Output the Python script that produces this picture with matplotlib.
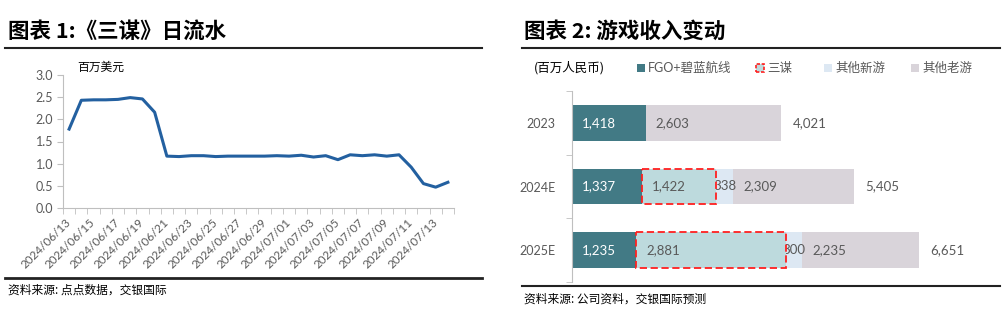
import matplotlib.pyplot as plt
from matplotlib.patches import Rectangle
from matplotlib.lines import Line2D
import numpy as np
import pandas as pd

plt.rcParams['font.family'] = ['Noto Sans CJK SC', 'DejaVu Sans']

# 图表1 数据: 《三谋》日流水 (百万美元)
dates = list(pd.date_range('2024-06-13', '2024-07-14').strftime('%Y/%m/%d'))
flow = [1.78, 2.43, 2.44, 2.44, 2.45, 2.49, 2.46, 2.16, 1.17, 1.16, 1.18, 1.18,
        1.16, 1.17, 1.17, 1.17, 1.17, 1.18, 1.17, 1.19, 1.15, 1.18, 1.09, 1.20,
        1.18, 1.20, 1.17, 1.20, 0.92, 0.55, 0.47, 0.58]

# 图表2 数据: 游戏收入变动 (百万人民币)
years = ['2023', '2024E', '2025E']
fgo = [1418, 1337, 1235]
sanmou = [0, 1422, 2881]
other_new = [0, 338, 300]
other_old = [2603, 2309, 2235]
totals = [4021, 5405, 6651]

W, H = 1004, 312
fig = plt.figure(figsize=(W / 100, H / 100), dpi=100)

num_font = ['Lato', 'Noto Sans CJK SC']
gray = '#595959'
axis_gray = '#BFBFBF'

# ---------- 左图 ----------
fig.text(8 / W, 1 - 31 / H, '图表 1:《三谋》日流水', fontsize=15.5, fontweight='bold',
         va='center', ha='left')
fig.add_artist(Line2D([5 / W, 482 / W], [1 - 48 / H] * 2, color='#222222', lw=1.5))
fig.add_artist(Line2D([5 / W, 482 / W], [1 - 278 / H] * 2, color='#222222', lw=2))
fig.text(8 / W, 1 - 290 / H, '资料来源: 点点数据，交银国际', fontsize=8.5, va='center',
         ha='left')

ax1 = fig.add_axes([63 / W, 1 - 208 / H, 391 / W, 133 / H])
x = np.arange(len(dates))
ax1.plot(x, flow, color='#2360A0', lw=2.2, solid_joinstyle='round')
ax1.set_xlim(-0.5, len(dates) - 0.5)
ax1.set_ylim(0, 3)
yt = np.arange(0, 3.01, 0.5)
ax1.set_yticks(yt)
ax1.set_yticklabels([f'{v:.1f}' for v in yt], color=gray, fontsize=9, family=num_font)
ax1.set_xticks(x[::2])
ax1.set_xticklabels(dates[::2], rotation=45, ha='right', va='center',
                    rotation_mode='anchor', color=gray, fontsize=8.5, family=num_font)
ax1.set_xticks(np.arange(-0.5, len(dates)), minor=True)
ax1.tick_params(axis='x', which='major', length=0, pad=9)
ax1.tick_params(axis='x', which='minor', length=4, color=axis_gray)
ax1.tick_params(axis='y', length=4, color=axis_gray, pad=3)
for s in ['top', 'right']:
    ax1.spines[s].set_visible(False)
for s in ['left', 'bottom']:
    ax1.spines[s].set_color(axis_gray)
fig.text(77 / W, 1 - 67 / H, '百万美元', fontsize=8.5, va='center', ha='left')

# ---------- 右图 ----------
fig.text(524 / W, 1 - 31 / H, '图表 2: 游戏收入变动', fontsize=15.5, fontweight='bold',
         va='center', ha='left')
fig.add_artist(Line2D([522 / W, 1000 / W], [1 - 48 / H] * 2, color='#222222', lw=1.5))
fig.add_artist(Line2D([522 / W, 1000 / W], [1 - 286 / H] * 2, color='#222222', lw=1.5))
fig.text(524 / W, 1 - 299 / H, '资料来源: 公司资料，交银国际预测', fontsize=8.5,
         va='center', ha='left')

c_fgo, c_san, c_new, c_old = '#427A85', '#BDDADD', '#DDE8F3', '#D9D4DA'

ax2 = fig.add_axes([572 / W, 1 - 282 / H, 428 / W, 191 / H])
y = np.arange(len(years))
bh = 0.56
start_san = np.array(fgo, dtype=float)
start_new = start_san + np.array(sanmou)
start_old = start_new + np.array(other_new)
ends = start_old + np.array(other_old)

ax2.barh(y, fgo, bh, color=c_fgo, zorder=1)
b_san = ax2.barh(y, sanmou, bh, left=start_san, color=c_san, edgecolor='#FF2020',
                 linestyle=(0, (4, 2)), lw=1.3, zorder=2)
for i, v in enumerate(sanmou):
    if v == 0:
        b_san[i].set_visible(False)
ax2.barh(y, other_new, bh, left=start_new, color=c_new, zorder=1)
ax2.barh(y, other_old, bh, left=start_old, color=c_old, zorder=1)

pad = 190
lab_kw = dict(va='center', fontsize=9.5, family=num_font)
for i in range(len(years)):
    ax2.text(pad, y[i], f'{fgo[i]:,}', ha='left', color='white', zorder=3, **lab_kw)
    if sanmou[i]:
        ax2.text(start_san[i] + pad, y[i], f'{sanmou[i]:,}', ha='left', color=gray,
                 zorder=3, **lab_kw)
    if other_new[i]:
        ax2.text(start_new[i] + other_new[i] / 2, y[i], f'{other_new[i]:,}',
                 ha='center', color=gray, zorder=1.5, **lab_kw)
    ax2.text(start_old[i] + pad, y[i], f'{other_old[i]:,}', ha='left', color=gray,
             zorder=3, **lab_kw)
    ax2.text(ends[i] + 220, y[i], f'{totals[i]:,}', ha='left', color=gray,
             zorder=3, **lab_kw)

ax2.set_xlim(0, 8215)
ax2.set_ylim(len(years) - 0.5, -0.5)
ax2.set_yticks(y)
ax2.set_yticklabels(years, color=gray, fontsize=9, family=num_font)
ax2.set_yticks(np.arange(-0.5, len(years)), minor=True)
ax2.tick_params(axis='y', which='major', length=0, pad=12)
ax2.tick_params(axis='y', which='minor', length=4, color=axis_gray)
ax2.set_xticks([])
for s in ['top', 'right', 'bottom']:
    ax2.spines[s].set_visible(False)
ax2.spines['left'].set_color(axis_gray)

# 图例
ly = 1 - 68 / H
fig.text(534 / W, ly, '(百万人民币)', fontsize=9, va='center', ha='left')
legend_items = [(637, c_fgo, 'none', 'FGO+碧蓝航线', '-'),
                (756, c_san, '#FF2020', '三谋', (0, (2, 1))),
                (824, c_new, 'none', '其他新游', '-'),
                (911, c_old, 'none', '其他老游', '-')]
for lx, fc, ec, name, ls in legend_items:
    fig.add_artist(Rectangle((lx / W, ly - 4 / H), 8 / W, 8 / H, facecolor=fc,
                             edgecolor=ec, lw=1.2, linestyle=ls,
                             transform=fig.transFigure))
    fig.text((lx + 11) / W, ly, name, fontsize=9, va='center', ha='left',
             color=gray, family=['Lato', 'Noto Sans CJK SC'])

fig.savefig('out.png', dpi=100)
